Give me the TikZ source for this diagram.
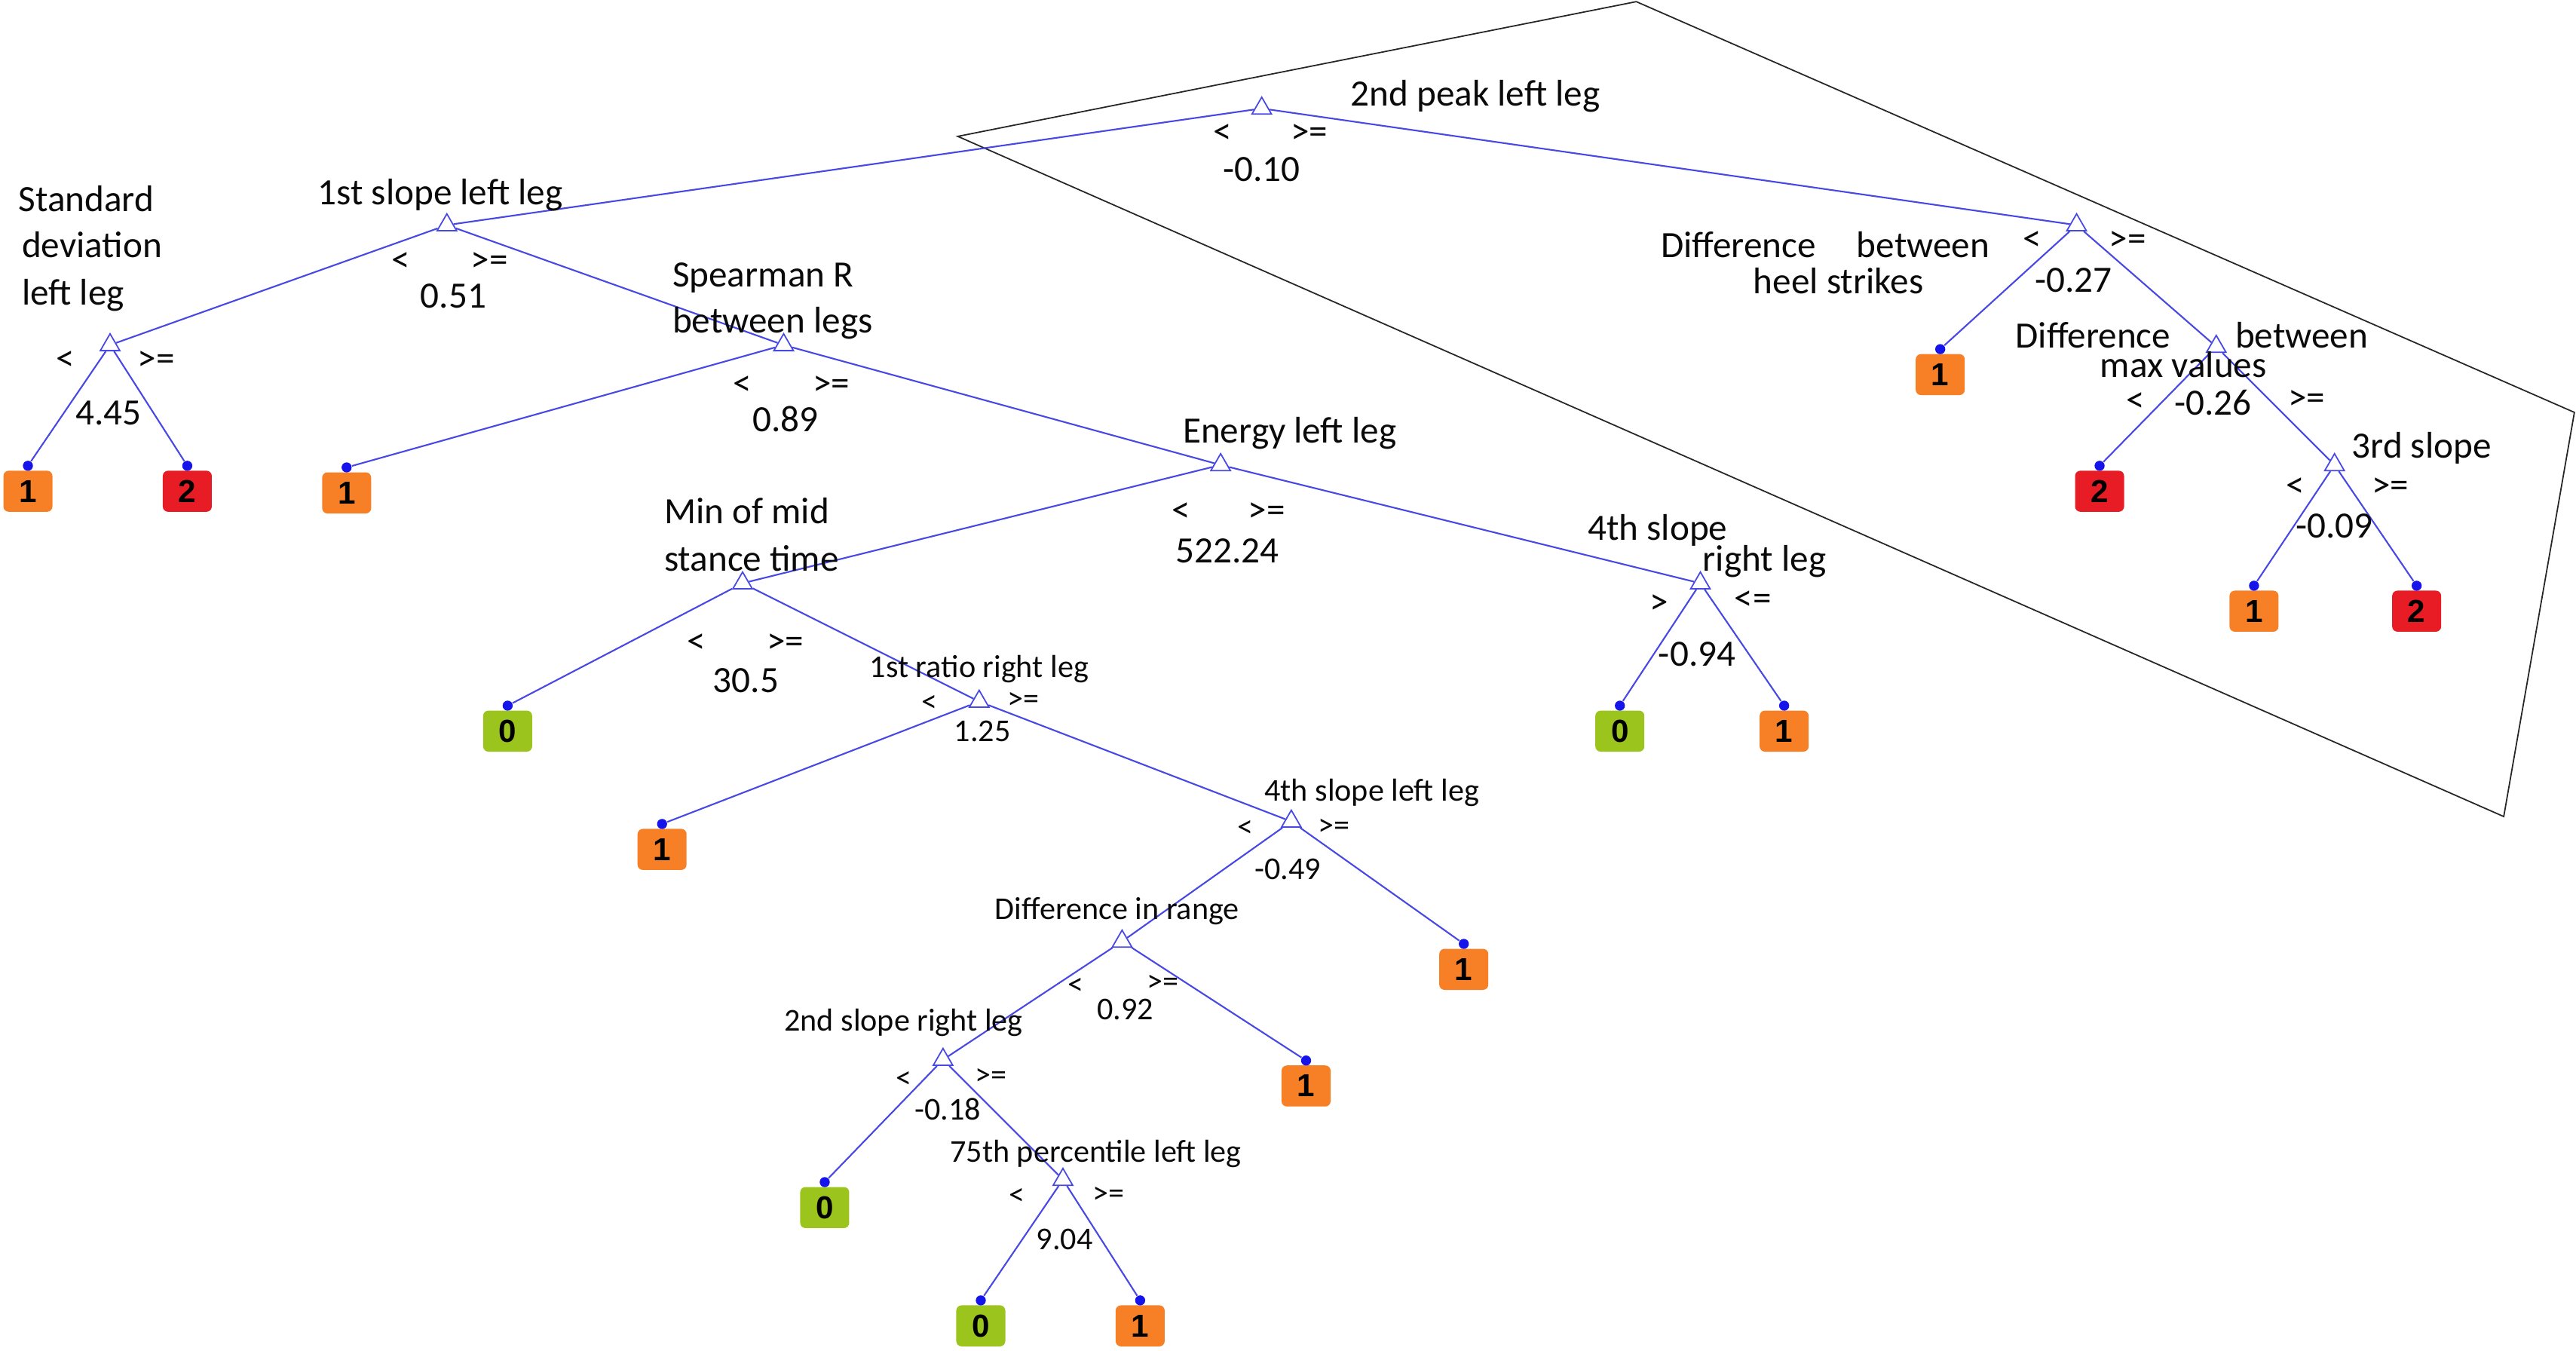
\documentclass[tikz,border=0pt]{standalone}
\usepackage{fontspec}
\setmainfont{Carlito}
\newfontfamily\leaffont{Liberation Sans}
\usetikzlibrary{shapes.geometric}
\definecolor{edgeblue}{RGB}{72,72,228}
\definecolor{dotblue}{RGB}{20,20,235}
\definecolor{leafor}{RGB}{247,127,38}
\definecolor{leafred}{RGB}{232,28,36}
\definecolor{leafgr}{RGB}{155,196,28}
\definecolor{txt}{RGB}{10,10,10}
\tikzset{
  tri/.style={regular polygon, regular polygon sides=3, draw=edgeblue, line width=0.5pt, inner sep=0pt, minimum size=8.5pt},
  edge/.style={draw=edgeblue, line width=0.6pt},
  dotn/.style={circle, fill=dotblue, inner sep=0pt, minimum size=3.8pt},
  leafbox/.style={rounded corners=2pt, inner sep=0pt, minimum width=18.5pt, minimum height=15.5pt, text=black, font=\leaffont\bfseries\fontsize{12}{12}\selectfont},
  lab/.style={inner sep=0pt, text=txt, font=\fontsize{14}{16}\selectfont, text height=9.8pt, text depth=2.8pt, yshift=-1.2pt},
  slab/.style={inner sep=0pt, text=txt, font=\fontsize{12}{14}\selectfont, text height=8.4pt, text depth=2.4pt, yshift=-1pt},
  frame/.style={draw=black!85, line width=0.5pt}
}
\newcommand\leafnode[5]{%
  \node[leafbox, fill=#4] (#1) at (#2,#3) {#5};
  \node[dotn] (#1d) at (#2,#3-15.5) {};
}
\begin{document}
\begin{tikzpicture}[x=0.021792cm, y=-0.021792cm]
\useasboundingbox (0,0) rectangle (1568,822);

% outline polygon
\coordinate (pa) at (583,83);
\coordinate (pb) at (996,1);
\coordinate (pc) at (1567,251);
\coordinate (pd) at (1524,497);
\draw[frame] (pa) -- (pb) -- (pc) -- (pd) -- cycle;

% split nodes
\node[tri] (root) at (768,66) {};
\node[tri] (s1) at (272,137) {};
\node[tri] (dh) at (1264,137) {};
\node[tri] (sd) at (67,210) {};
\node[tri] (sp) at (477,210) {};
\node[tri] (en) at (743,283) {};
\node[tri] (mm) at (452,355) {};
\node[tri] (rr) at (596,427) {};
\node[tri] (l4) at (786,500) {};
\node[tri] (dr) at (683,573) {};
\node[tri] (s2) at (574,645) {};
\node[tri] (p75) at (647,718) {};
\node[tri] (r4) at (1035,355) {};
\node[tri] (dm) at (1349,211) {};
\node[tri] (t3) at (1421,283) {};

% leaves
\leafnode{la}{17}{299}{leafor}{1}
\leafnode{lb}{114}{299}{leafred}{2}
\leafnode{lc}{211}{300}{leafor}{1}
\leafnode{ld}{309}{445}{leafgr}{0}
\leafnode{le}{403}{517}{leafor}{1}
\leafnode{lf}{891}{590}{leafor}{1}
\leafnode{lg}{795}{661}{leafor}{1}
\leafnode{lh}{502}{735}{leafgr}{0}
\leafnode{li}{597}{807}{leafgr}{0}
\leafnode{lj}{694}{807}{leafor}{1}
\leafnode{lk}{986}{445}{leafgr}{0}
\leafnode{ll}{1086}{445}{leafor}{1}
\leafnode{lm}{1181}{228}{leafor}{1}
\leafnode{ln}{1278}{299}{leafred}{2}
\leafnode{lo}{1372}{372}{leafor}{1}
\leafnode{lp}{1471}{372}{leafred}{2}

% edges
\draw[edge] (root) -- (s1);
\draw[edge] (root) -- (dh);
\draw[edge] (s1) -- (sd);
\draw[edge] (s1) -- (sp);
\draw[edge] (sd) -- (lad);
\draw[edge] (sd) -- (lbd);
\draw[edge] (sp) -- (lcd);
\draw[edge] (sp) -- (en);
\draw[edge] (en) -- (mm);
\draw[edge] (en) -- (r4);
\draw[edge] (mm) -- (ldd);
\draw[edge] (mm) -- (rr);
\draw[edge] (rr) -- (led);
\draw[edge] (rr) -- (l4);
\draw[edge] (l4) -- (dr);
\draw[edge] (l4) -- (lfd);
\draw[edge] (dr) -- (s2);
\draw[edge] (dr) -- (lgd);
\draw[edge] (s2) -- (lhd);
\draw[edge] (s2) -- (p75);
\draw[edge] (p75) -- (lid);
\draw[edge] (p75) -- (ljd);
\draw[edge] (r4) -- (lkd);
\draw[edge] (r4) -- (lld);
\draw[edge] (dh) -- (lmd);
\draw[edge] (dh) -- (dm);
\draw[edge] (dm) -- (lnd);
\draw[edge] (dm) -- (t3);
\draw[edge] (t3) -- (lod);
\draw[edge] (t3) -- (lpd);

% labels: root
\node[lab] (troot) at (898,57) {2nd peak left leg};
\node[lab] (aroot) at (744,80) {<};
\node[lab] (broot) at (797,80) {>=};
\node[lab] (vroot) at (768,103) {-0.10};
% 1st slope left leg
\node[lab] (ts1) at (268,117) {1st slope left leg};
\node[lab] (as1) at (244,158) {<};
\node[lab] (bs1) at (298,158) {>=};
\node[lab] (vs1) at (276,180) {0.51};
% standard deviation
\node[lab, anchor=west] (tsd1) at (11,121) {Standard};
\node[lab, anchor=west] (tsd2) at (13,149) {deviation};
\node[lab, anchor=west] (tsd3) at (13,178) {left leg};
\node[lab] (asd) at (40,218) {<};
\node[lab] (bsd) at (95,218) {>=};
\node[lab] (vsd) at (66,251) {4.45};
% spearman
\node[lab, anchor=west] (tsp1) at (409,167) {Spearman R};
\node[lab, anchor=west] (tsp2) at (409,195) {between legs};
\node[lab] (asp) at (452,233) {<};
\node[lab] (bsp) at (506,233) {>=};
\node[lab] (vsp) at (478,255) {0.89};
% energy
\node[lab] (ten) at (785,262) {Energy left leg};
\node[lab] (aen) at (719,310) {<};
\node[lab] (ben) at (771,310) {>=};
\node[lab] (ven) at (747,335) {522.24};
% min of mid stance
\node[lab, anchor=west] (tmm1) at (404,311) {Min of mid};
\node[lab, anchor=west] (tmm2) at (404,340) {stance time};
\node[lab] (amm) at (424,390) {<};
\node[lab] (bmm) at (478,390) {>=};
\node[lab] (vmm) at (454,414) {30.5};
% 1st ratio right leg
\node[slab] (trr) at (596,406) {1st ratio right leg};
\node[slab] (arr) at (566,427) {<};
\node[slab] (brr) at (623,425) {>=};
\node[slab] (vrr) at (598,445) {1.25};
% 4th slope left leg
\node[slab] (tl4) at (835,481) {4th slope left leg};
\node[slab] (al4) at (758,503) {<};
\node[slab] (bl4) at (812,502) {>=};
\node[slab] (vl4) at (784,529) {-0.49};
% difference in range
\node[slab] (tdr) at (680,553) {Difference in range};
\node[slab] (adr) at (655,599) {<};
\node[slab] (bdr) at (708,597) {>=};
\node[slab] (vdr) at (685,614) {0.92};
% 2nd slope right leg
\node[slab] (ts2) at (550,621) {2nd slope right leg};
\node[slab] (as2) at (550,656) {<};
\node[slab] (bs2) at (603,654) {>=};
\node[slab] (vs2) at (577,675) {-0.18};
% 75th percentile
\node[slab] (tp75) at (667,701) {75th percentile left leg};
\node[slab] (ap75) at (619,727) {<};
\node[slab] (bp75) at (675,726) {>=};
\node[slab] (vp75) at (648,754) {9.04};
% 4th slope right leg
\node[lab] (tr41) at (1009,321) {4th slope};
\node[lab] (tr42) at (1074,340) {right leg};
\node[lab] (ar4) at (1010,366) {>};
\node[lab] (br4) at (1067,364) {<=};
\node[lab] (vr4) at (1033,398) {-0.94};
% difference between heel strikes
\node[lab] (tdh1) at (1111,149) {Difference\hspace{1.1em}between};
\node[lab] (tdh2) at (1119,171) {heel strikes};
\node[lab] (adh) at (1237,145) {<};
\node[lab] (bdh) at (1295,145) {>=};
\node[lab] (vdh) at (1262,170) {-0.27};
% difference between max values
\node[lab] (tdm1) at (1274,204) {Difference};
\node[lab] (tdm2) at (1401,204) {between};
\node[lab] (tdm3) at (1329,222) {max values};
\node[lab] (adm) at (1300,243) {<};
\node[lab] (vdm) at (1347,245) {-0.26};
\node[lab] (bdm) at (1404,242) {>=};
% 3rd slope
\node[lab] (tt3) at (1474,271) {3rd slope};
\node[lab] (at3) at (1397,295) {<};
\node[lab] (bt3) at (1455,295) {>=};
\node[lab] (vt3) at (1421,320) {-0.09};
\end{tikzpicture}
\end{document}
